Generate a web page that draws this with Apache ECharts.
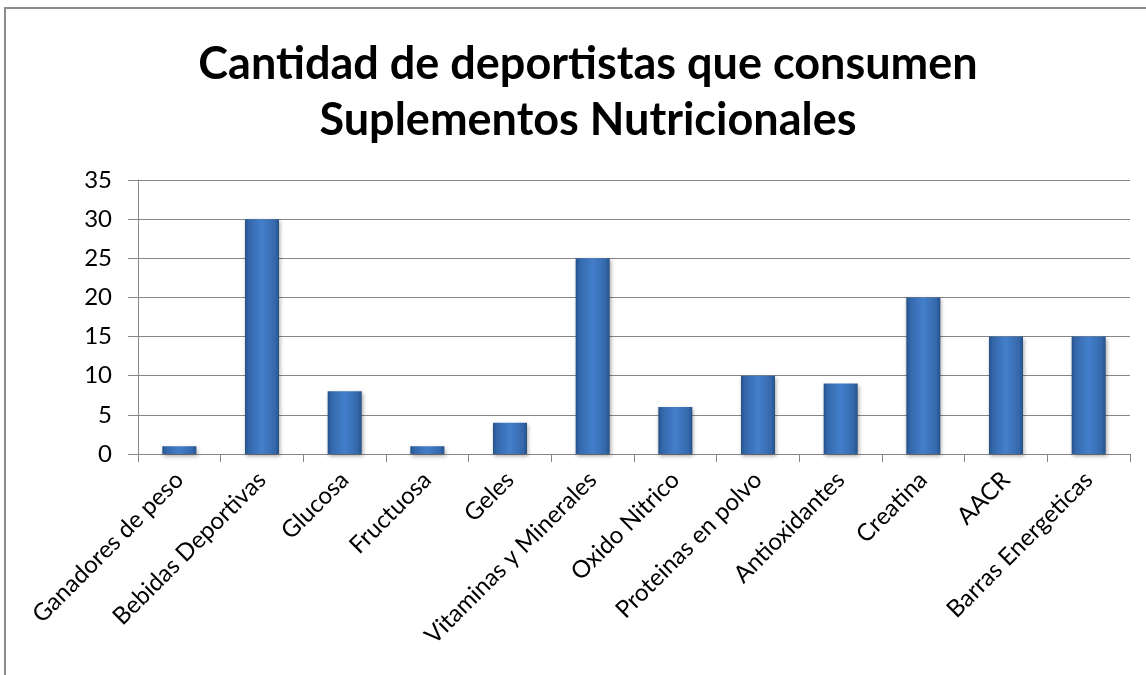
<!DOCTYPE html>
<html><head><meta charset="utf-8">
<script src="https://cdn.jsdelivr.net/npm/echarts@6/dist/echarts.min.js"></script>
<style>
html,body{margin:0;padding:0;background:#fff;}
#frame{position:absolute;left:4px;top:7px;width:1142px;height:668px;border-top:2px solid #8c8c8c;border-left:2px solid #8c8c8c;box-sizing:border-box;}
#c{position:absolute;left:0;top:0;width:1146px;height:675px;}
</style></head>
<body>
<div id="frame"></div>
<div id="c"></div>
<script>
const categories = ["Ganadores de peso","Bebidas Deportivas","Glucosa","Fructuosa","Geles","Vitaminas y Minerales","Oxido Nitrico","Proteinas en polvo","Antioxidantes","Creatina","AACR","Barras Energeticas"];
const values = [1,30,8,1,4,25,6,10,9,20,15,15];
const titleLines = ["Cantidad de deportistas que consumen","Suplementos Nutricionales"];

const chart = echarts.init(document.getElementById('c'));
const font = 'Lato, "Open Sans", sans-serif';
chart.setOption({
  animation:false,
  title:{
    text: titleLines.join('\n'),
    left:583, top:31,
    textAlign:'center',
    textStyle:{fontFamily:font,fontSize:45,fontWeight:'bold',color:'#000',lineHeight:56,align:'center'}
  },
  grid:{left:138,right:16,top:180,bottom:221,containLabel:false},
  xAxis:{
    type:'category', data:categories,
    axisLine:{lineStyle:{color:'#868686',width:1}},
    axisTick:{show:true,length:8,lineStyle:{color:'#868686'}},
    axisLabel:{rotate:45,interval:0,fontFamily:font,fontSize:24,color:'#000',margin:22}
  },
  yAxis:{
    type:'value', min:0, max:35, interval:5,
    axisLine:{show:true,lineStyle:{color:'#868686'}},
    axisTick:{show:true,length:10,lineStyle:{color:'#868686'}},
    splitLine:{lineStyle:{color:'#868686',width:1}},
    axisLabel:{fontFamily:font,fontSize:24,color:'#000',margin:26}
  },
  series:[{
    type:'bar', data:values, barWidth:34,
    itemStyle:{
      color:new echarts.graphic.LinearGradient(0,0,1,0,[
        {offset:0,color:'#24518a'},
        {offset:0.12,color:'#3568ab'},
        {offset:0.5,color:'#437fcb'},
        {offset:0.88,color:'#3568ab'},
        {offset:1,color:'#24518a'}
      ]),
      shadowColor:'rgba(0,0,0,0.35)',shadowBlur:4,shadowOffsetX:1,shadowOffsetY:2
    }
  }]
});
</script>
</body></html>
